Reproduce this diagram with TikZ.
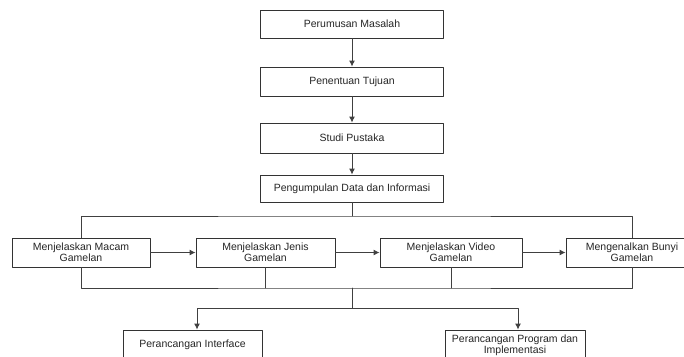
\documentclass[tikz,border=0pt]{standalone}
\usepackage{fontspec}
\setmainfont{Liberation Sans}
\usetikzlibrary{arrows.meta}

\tikzset{
  box/.style={draw=black!80, line width=0.9pt, fill=white, align=center,
    minimum height=28pt, inner sep=1pt, text=black!85,
    font=\fontsize{10.5}{11}\selectfont},
  link/.style={draw=black!75, line width=0.9pt},
  arr/.style={link, -{Latex[length=6pt,width=6pt]}}
}

\begin{document}
\begin{tikzpicture}[x=1pt, y=-1pt, line cap=round, line join=round]
		
		% page frame
		\useasboundingbox (0,0) rectangle (684,356);
		
		% main chain
		\node[box, minimum width=183pt] (masalah) at (352,24) {Perumusan Masalah};
		\node[box, minimum width=183pt, minimum height=29pt] (tujuan) at (352,81.5) {Penentuan Tujuan};
		\node[box, minimum width=183pt, minimum height=30pt] (pustaka) at (352,138) {Studi Pustaka};
		\node[box, minimum width=183pt, minimum height=27pt] (data) at (352,188.5) {Pengumpulan Data dan Informasi};
		
		% the four steps
		\node[box, minimum width=138pt, minimum height=29pt] (macam) at (81,252.5) {Menjelaskan Macam\\Gamelan};
		\node[box, minimum width=139pt, minimum height=29pt] (jenis) at (265.5,252.5) {Menjelaskan Jenis\\Gamelan};
		\node[box, minimum width=142pt, minimum height=29pt] (video) at (451,252.5) {Menjelaskan Video\\Gamelan};
		\node[box, minimum width=132pt, minimum height=29pt] (bunyi) at (632,252.5) {Mengenalkan Bunyi\\Gamelan};
		
		% design
		\node[box, minimum width=139pt, minimum height=30pt] (interface) at (192.5,345) {Perancangan Interface};
		\node[box, minimum width=140pt, minimum height=30pt] (program) at (515,345) {Perancangan Program dan\\Implementasi};
		
		% junctions
		\coordinate (topbar) at (352,216);
		\coordinate (botbar) at (352,288);
		\coordinate (split) at (352,308);
		
		\draw[arr] (masalah) -- (tujuan);
		\draw[arr] (tujuan) -- (pustaka);
		\draw[arr] (pustaka) -- (data);
		
		\draw[link] (data) -- (topbar);
		\draw[link] (macam.north) |- (topbar) -| (bunyi.north);
		
		\draw[arr] (macam) -- (jenis);
		\draw[arr] (jenis) -- (video);
		\draw[arr] (video) -- (bunyi);
		
		\draw[link] (macam.south) |- (botbar) -| (bunyi.south);
		\draw[link] (jenis.south) -- (jenis.south |- botbar);
		\draw[link] (video.south) -- (video.south |- botbar);
		\draw[link] (botbar) -- (split);
		\draw[arr] (split) -| ([xshift=4.5pt]interface.north);
		\draw[arr] (split) -| ([xshift=3pt]program.north);
		
	\end{tikzpicture}
\end{document}
